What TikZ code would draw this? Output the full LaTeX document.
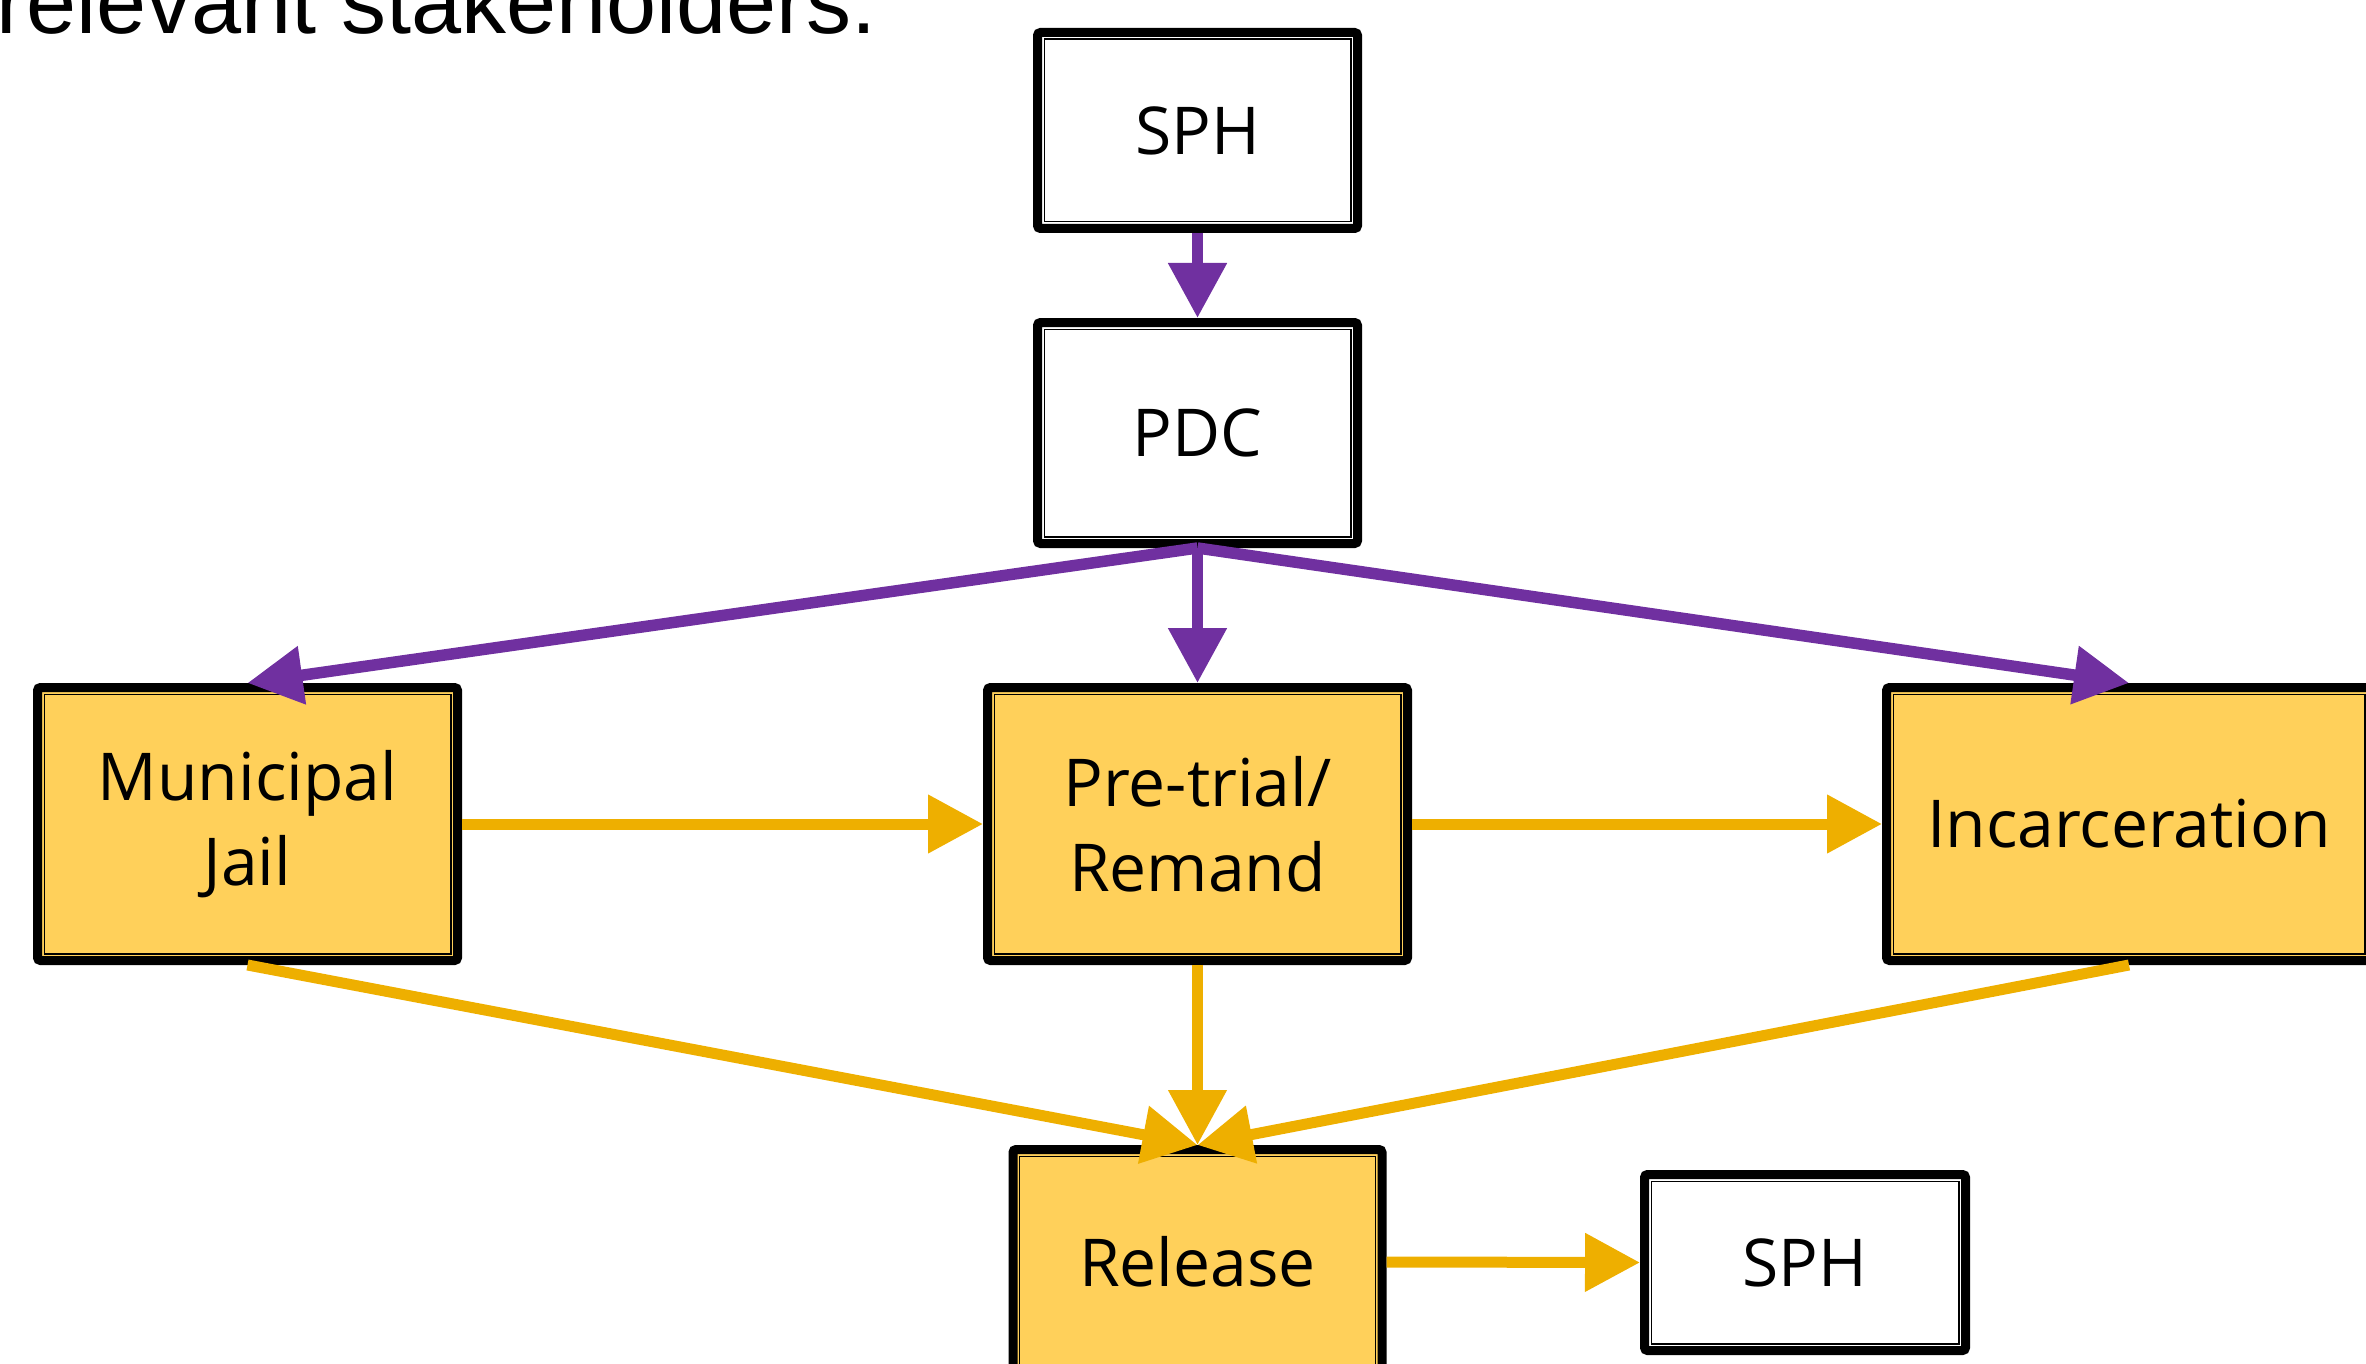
\documentclass[tikz,border=0pt]{standalone}
\usepackage{fontspec}
\setmainfont{Open Sans}
\newfontfamily\slidefont{Liberation Sans}
\usetikzlibrary{arrows.meta}
\definecolor{flowpurple}{HTML}{7030A0}
\definecolor{flowgold}{HTML}{EEAF00}
\definecolor{stagefill}{HTML}{FFD05A}
\begin{document}
\begin{tikzpicture}[x=0.5pt,y=-0.5pt,
  box/.style={draw=black, line width=4.5pt, rounded corners=1.5pt, inner sep=0pt,
    align=center, font=\fontsize{33}{42.5}\selectfont},
  stage/.style={box, fill=stagefill},
  agency/.style={box, fill=white},
  innerline/.style={line width=0.7pt},
  tipshape/.style={-{Triangle[length=27.5pt,width=28pt]}},
  purplearrow/.style={draw=flowpurple, line width=5.75pt, tipshape},
  goldarrow/.style={draw=flowgold, line width=5.5pt, tipshape}
]
\useasboundingbox (0,0) rectangle (2366,1364);
\clip (0,0) rectangle (2366,1364);

% slide text above the chart
\node[anchor=base west, inner sep=0pt, font=\slidefont\fontsize{45}{54}\selectfont]
  (caption) at (-4,34) {relevant stakeholders.};

% agencies and stages
\node[agency, minimum width=160pt, minimum height=98pt] (sphtop) at (1197.5,130.5) {SPH};
\node[agency, minimum width=160pt, minimum height=110.5pt] (pdc) at (1197.5,433) {PDC};
\node[stage, minimum width=210pt, minimum height=136.5pt] (muni) at (247.5,824) {Municipal\\Jail};
\node[stage, minimum width=210pt, minimum height=136.5pt] (pre) at (1197.5,824) {Pre-trial/\\Remand};
\node[stage, minimum width=242.5pt, minimum height=136.5pt] (inc) at (2129,824) {Incarceration};
\node[stage, minimum width=184.5pt, minimum height=112.5pt] (rel) at (1197.5,1262) {Release};
\node[agency, minimum width=160.5pt, minimum height=88pt] (sphend) at (1805,1262.5) {SPH};

% thin inner frame of each box
\foreach \n in {sphtop,pdc,muni,pre,inc,rel,sphend}
  \draw[innerline] ([xshift=5.6pt,yshift=5.6pt]\n.south west)
    rectangle ([xshift=-5.6pt,yshift=-5.6pt]\n.north east);

% referrals
\draw[purplearrow] (sphtop.south) -- (pdc.north);
\draw[purplearrow] (pdc.south) -- (muni.north);
\draw[purplearrow] (pdc.south) -- (pre.north);
\draw[purplearrow] (pdc.south) -- (inc.north);

% custody flow
\draw[goldarrow] (muni.east) -- (pre.west);
\draw[goldarrow] (pre.east) -- (inc.west);
\draw[goldarrow] (muni.south) -- (rel.north);
\draw[goldarrow] (pre.south) -- (rel.north);
\draw[goldarrow] (inc.south) -- (rel.north);
\draw[goldarrow] (rel.east) -- (sphend.west);
\end{tikzpicture}
\end{document}
